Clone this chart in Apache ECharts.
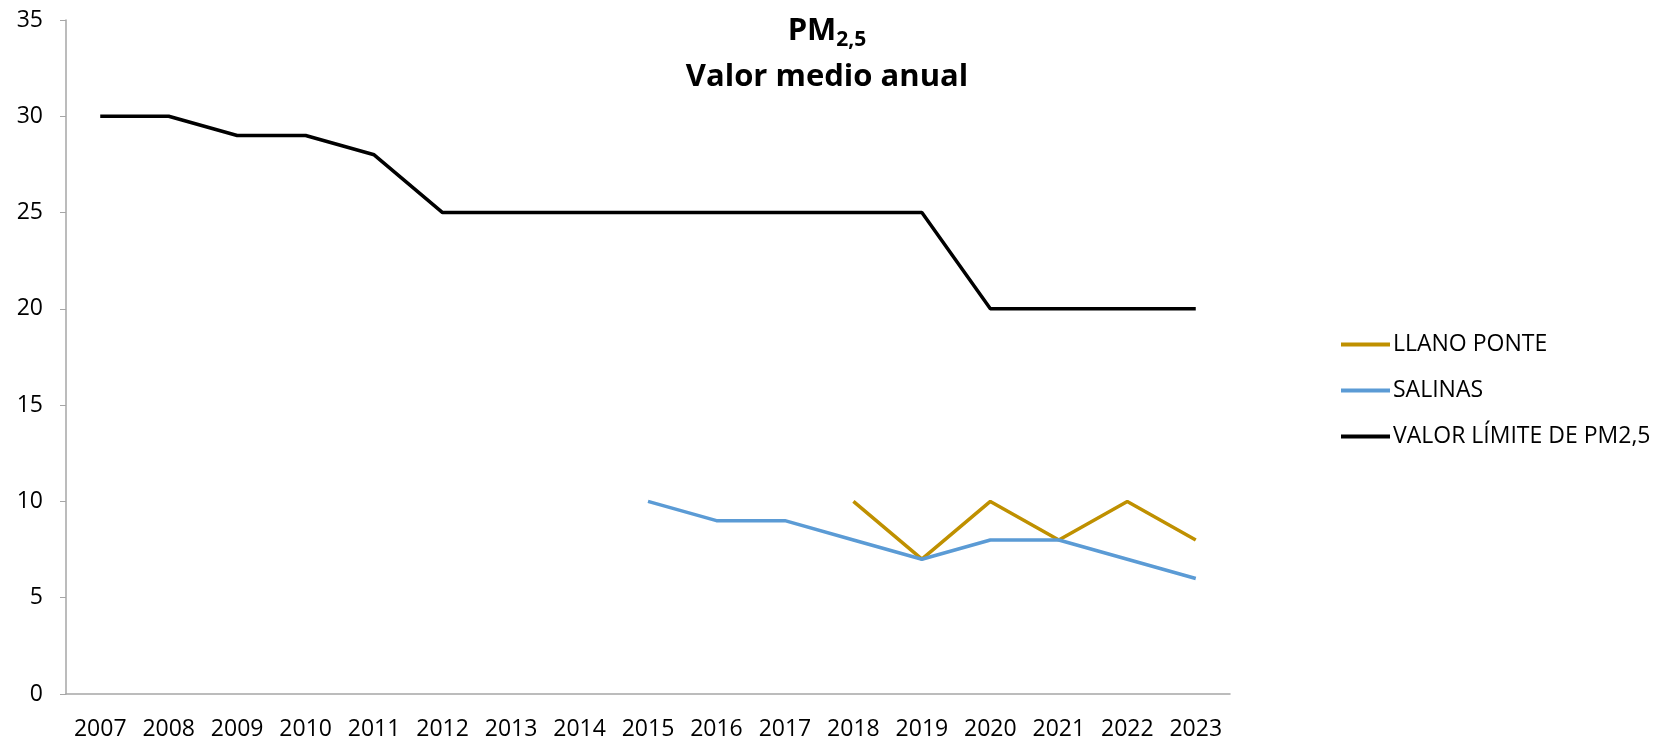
<!DOCTYPE html>
<html><head><meta charset="utf-8">
<script src="https://cdn.jsdelivr.net/npm/echarts@6/dist/echarts.min.js"></script>
<style>html,body{margin:0;padding:0;background:#fff}#c{width:1670px;height:742px}</style>
</head><body><div id="c"></div>
<script>
const years = ['2007','2008','2009','2010','2011','2012','2013','2014','2015','2016','2017','2018','2019','2020','2021','2022','2023'];
const llanoPonte = [null,null,null,null,null,null,null,null,null,null,null,10,7,10,8,10,8];
const salinas = [null,null,null,null,null,null,null,null,10,9,9,8,7,8,8,7,6];
const valorLimite = [30,30,29,29,28,25,25,25,25,25,25,25,25,20,20,20,20];
const yTicks = [0,5,10,15,20,25,30,35];

const FONT = 'Open Sans';
const chart = echarts.init(document.getElementById('c'), null, {renderer:'canvas'});
chart.setOption({
  backgroundColor:'#fff',
  animation:false,
  textStyle:{fontFamily:FONT},
  title:{
    left:822, top:3, textAlign:'center',
    text:'{a|PM}{b|2,5}\n{a|Valor medio anual}',
    textStyle:{
      rich:{
        a:{fontFamily:FONT,fontSize:31,fontWeight:'bold',color:'#000',lineHeight:46,align:'center'},
        b:{fontFamily:FONT,fontSize:21,fontWeight:'bold',color:'#000',lineHeight:46,padding:[18,0,0,0]}
      }
    }
  },
  legend:{
    orient:'vertical', left:1336, top:324,
    icon:'rect', itemWidth:49, itemHeight:4, itemGap:15,
    textStyle:{fontFamily:FONT,fontSize:23,color:'#000',lineHeight:31,padding:[0,0,0,-2]},
    data:['LLANO PONTE','SALINAS','VALOR LÍMITE DE PM2,5']
  },
  grid:{left:66,right:440,top:20,bottom:48,containLabel:false},
  xAxis:{
    type:'category', data:years, boundaryGap:true,
    axisLine:{lineStyle:{color:'#a6a6a6',width:1.5}},
    axisTick:{show:false},
    axisLabel:{fontFamily:FONT,fontSize:23,color:'#000',margin:24}
  },
  yAxis:{
    type:'value', min:0, max:35, interval:5,
    axisLine:{show:true,lineStyle:{color:'#a6a6a6',width:1.5}},
    axisTick:{show:true,length:6,lineStyle:{color:'#a6a6a6'}},
    splitLine:{show:false},
    axisLabel:{fontFamily:FONT,fontSize:23,color:'#000',margin:23,
      formatter:v=>yTicks.includes(v)?String(v):''}
  },
  series:[
    {name:'LLANO PONTE',type:'line',data:llanoPonte,symbol:'none',connectNulls:false,
     lineStyle:{color:'#bf9000',width:3.5},itemStyle:{color:'#bf9000'}},
    {name:'SALINAS',type:'line',data:salinas,symbol:'none',
     lineStyle:{color:'#5b9bd5',width:3.5},itemStyle:{color:'#5b9bd5'}},
    {name:'VALOR LÍMITE DE PM2,5',type:'line',data:valorLimite,symbol:'none',
     lineStyle:{color:'#000',width:3.5},itemStyle:{color:'#000'}}
  ]
});
</script></body></html>
